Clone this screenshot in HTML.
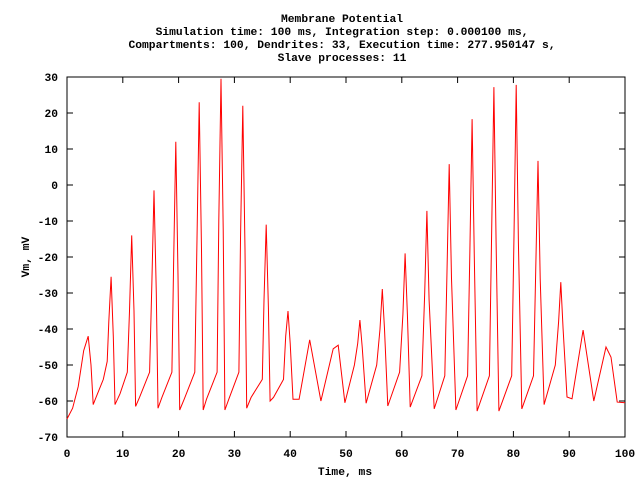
<!DOCTYPE html>
<html><head><meta charset="utf-8"><style>
html,body{margin:0;padding:0;background:#fff;}
svg{display:block;}
text{font-family:"Liberation Mono",monospace;font-size:11.3px;font-weight:bold;fill:#000;}
</style></head><body>
<svg id="chart" width="640" height="480">
<g>
<text x="342" y="22" text-anchor="middle">Membrane Potential</text>
<text x="342" y="35" text-anchor="middle">Simulation time: 100 ms, Integration step: 0.000100 ms,</text>
<text x="342" y="48" text-anchor="middle">Compartments: 100, Dendrites: 33, Execution time: 277.950147 s,</text>
<text x="342" y="61" text-anchor="middle">Slave processes: 11</text>
</g>
<g id="ticks"></g>
<rect x="67" y="77" width="558" height="360" fill="none" stroke="#000" stroke-width="1"/>
<polyline id="series" fill="none" stroke="#f00" stroke-width="1"/>
<text x="345" y="475" text-anchor="middle">Time, ms</text>
<text transform="translate(29,257) rotate(-90)" text-anchor="middle">Vm, mV</text>
</svg>
<script>
const xTicks=[0,10,20,30,40,50,60,70,80,90,100];
const yTicks=[30,20,10,0,-10,-20,-30,-40,-50,-60,-70];
const timeMs=[0,1,2,3,3.8,4.3,4.7,5.2,6.5,7.2,7.5,7.9,8.3,8.6,9.5,10.8,11.2,11.6,12,12.3,13,14.8,15.2,15.6,16,16.3,17,18.8,19.1,19.5,19.9,20.2,21,22.9,23.3,23.7,24.1,24.4,25,26.9,27.2,27.6,28,28.3,29,30.8,31.1,31.5,31.9,32.2,33,35,35.3,35.7,36.1,36.4,37,38.8,39.2,39.6,40,40.5,41.6,43.5,45.5,47.7,48.6,49.8,51.5,52.1,52.5,52.9,53.6,55.5,56.1,56.5,56.9,57.5,59.6,60.2,60.6,61,61.5,63.6,64.1,64.5,64.9,65.8,67.7,68.1,68.5,68.9,69.7,71.8,72.2,72.6,73,73.5,75.7,76.1,76.5,76.9,77.4,79.7,80.1,80.5,80.9,81.5,83.6,84,84.4,84.8,85.5,87.5,88.1,88.5,88.9,89.6,90.5,92.5,94.4,96.6,97.5,98.6,100];
const vmValues=[-65,-62,-56,-46,-42,-50,-61,-59,-54,-49,-38,-25.5,-42,-61,-58,-52,-35,-14,-35,-61.5,-59,-52,-28,-1.5,-30,-62,-59,-52,-22,12,-25,-62.5,-59.5,-52,-15,23,-18,-62.5,-59.5,-52,-10,29.5,-12,-62.5,-59.5,-52,-15,22,-18,-62,-59,-54,-32,-11,-34,-60,-59,-54,-42,-35,-44,-59.5,-59.5,-43,-60,-45.5,-44.5,-60.5,-50,-44,-37.5,-45,-60.6,-50,-40,-28.9,-40,-61.4,-52,-36,-19,-36,-61.7,-53,-30,-7.2,-32,-62.2,-53,-24,5.8,-26,-62.5,-53,-18,18.3,-20,-62.8,-53,-14,27.2,-16,-62.8,-53,-14,27.8,-16,-62.2,-53,-24,6.7,-26,-61,-50,-38,-27,-40,-58.9,-59.4,-40.3,-60,-45,-47.8,-60.3,-60.5];
const X0=67,X1=625,Y0=437,Y1=77;
function xs(t){return X0+(t-0)/(100-0)*(X1-X0);}
function ys(v){return Y0-(v+70)/(30+70)*(Y0-Y1);}
const NS="http://www.w3.org/2000/svg";
const g=document.getElementById('ticks');
function mk(tag,attrs){const e=document.createElementNS(NS,tag);for(const k in attrs)e.setAttribute(k,attrs[k]);g.appendChild(e);return e;}
xTicks.forEach(t=>{
 const x=xs(t);
 const l1=mk('line',{x1:x,x2:x,y1:Y0,y2:Y0-6,stroke:'#000'});
 
 
 const l2=mk('line',{x1:x,x2:x,y1:Y1,y2:Y1+6,stroke:'#000'});
 
 
 const tx=mk('text',{x:x,y:457,'text-anchor':'middle'});
 tx.textContent=t;
 
 
});
yTicks.forEach(v=>{
 const y=ys(v);
 const l1=mk('line',{x1:X0,x2:X0+6,y1:y,y2:y,stroke:'#000'});
 
 
 const l2=mk('line',{x1:X1,x2:X1-6,y1:y,y2:y,stroke:'#000'});
 
 
 const tx=mk('text',{x:58,y:y+4,'text-anchor':'end'});
 tx.textContent=v;
 
 
});
document.getElementById('series').setAttribute('points',timeMs.map((t,i)=>xs(t).toFixed(1)+','+ys(vmValues[i]).toFixed(1)).join(' '));
</script>
</body></html>
